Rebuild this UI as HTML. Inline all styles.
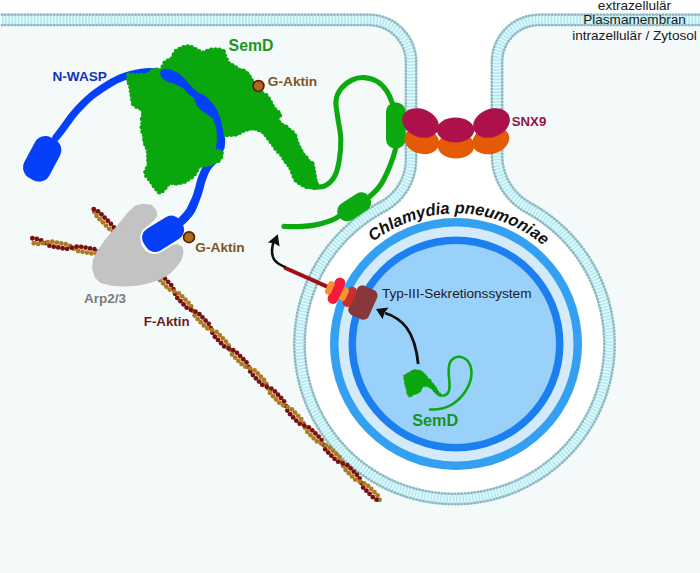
<!DOCTYPE html><html><head><meta charset="utf-8"><style>html,body{margin:0;padding:0;background:#f4f9fa;}svg{display:block}text{font-family:"Liberation Sans",sans-serif}</style></head><body>
<svg width="700" height="573" viewBox="0 0 700 573">
<rect width="700" height="573" fill="#f4f9fa"/>
<path d="M2 19.9L369 19.9A42 42 0 0 1 411 61.9L411 159.44A53.5 53.5 0 0 1 382.39 206.8A155 155 0 1 0 528.4 207.75A60 60 0 0 1 497 155.01L497 61.9A42 42 0 0 1 539 19.9L704 19.9 L704 -4 L-4 -4 Z" fill="#ffffff"/>
<circle cx="456" cy="344" r="126" fill="#33a0f2"/>
<circle cx="456" cy="344" r="117.5" fill="#d3eafb"/>
<circle cx="456" cy="344" r="107.5" fill="#1b7ff0"/>
<circle cx="456" cy="344" r="100" fill="#9ad1fa"/>
<path d="M2 19.9L369 19.9A42 42 0 0 1 411 61.9L411 159.44A53.5 53.5 0 0 1 382.39 206.8A155 155 0 1 0 528.4 207.75A60 60 0 0 1 497 155.01L497 61.9A42 42 0 0 1 539 19.9L704 19.9" fill="none" stroke="#e4f9fb" stroke-width="13"/>
<path d="M2 19.9L369 19.9A42 42 0 0 1 411 61.9L411 159.44A53.5 53.5 0 0 1 382.39 206.8A155 155 0 1 0 528.4 207.75A60 60 0 0 1 497 155.01L497 61.9A42 42 0 0 1 539 19.9L704 19.9" fill="none" stroke="#b0eaf2" stroke-width="8.5" stroke-dasharray="1.6 1.6"/>
<path d="M2 14.7L369 14.7A47.2 47.2 0 0 1 416.2 61.9L416.2 159.44A58.7 58.7 0 0 1 384.81 211.4A149.8 149.8 0 1 0 525.92 212.32A65.2 65.2 0 0 1 491.8 155.01L491.8 61.9A47.2 47.2 0 0 1 539 14.7L704 14.7" fill="none" stroke="#a3c5cd" stroke-width="1.1"/>
<path d="M2 14.7L369 14.7A47.2 47.2 0 0 1 416.2 61.9L416.2 159.44A58.7 58.7 0 0 1 384.81 211.4A149.8 149.8 0 1 0 525.92 212.32A65.2 65.2 0 0 1 491.8 155.01L491.8 61.9A47.2 47.2 0 0 1 539 14.7L704 14.7" fill="none" stroke="#92b8c1" stroke-width="2.8" stroke-linecap="round" stroke-dasharray="0.01 3.25"/>
<path d="M2 25.1L369 25.1A36.8 36.8 0 0 1 405.8 61.9L405.8 159.44A48.3 48.3 0 0 1 379.97 202.19A160.2 160.2 0 1 0 530.87 203.18A54.8 54.8 0 0 1 502.2 155.01L502.2 61.9A36.8 36.8 0 0 1 539 25.1L704 25.1" fill="none" stroke="#a3c5cd" stroke-width="1.1"/>
<path d="M2 25.1L369 25.1A36.8 36.8 0 0 1 405.8 61.9L405.8 159.44A48.3 48.3 0 0 1 379.97 202.19A160.2 160.2 0 1 0 530.87 203.18A54.8 54.8 0 0 1 502.2 155.01L502.2 61.9A36.8 36.8 0 0 1 539 25.1L704 25.1" fill="none" stroke="#92b8c1" stroke-width="2.8" stroke-linecap="round" stroke-dasharray="0.01 3.25"/>
<g>
<circle cx="155.48" cy="272.07" r="2.4" fill="#ae7a20"/><circle cx="323.37" cy="444.61" r="2.4" fill="#7a1010"/><circle cx="285.71" cy="405.91" r="2.4" fill="#7a1010"/><circle cx="192.89" cy="311.01" r="2.4" fill="#ae7a20"/><circle cx="117.84" cy="233.35" r="2.4" fill="#ae7a20"/><circle cx="361.35" cy="482.99" r="2.4" fill="#7a1010"/><circle cx="248.41" cy="366.85" r="2.4" fill="#7a1010"/><circle cx="230.27" cy="349.98" r="2.4" fill="#ae7a20"/><circle cx="379.52" cy="499.82" r="2.4" fill="#ae7a20"/><circle cx="210.74" cy="328.18" r="2.4" fill="#7a1010"/><circle cx="268.01" cy="388.59" r="2.4" fill="#ae7a20"/><circle cx="341.52" cy="461.46" r="2.4" fill="#ae7a20"/><circle cx="137.52" cy="255.02" r="2.4" fill="#7a1010"/><circle cx="173.38" cy="289.19" r="2.4" fill="#7a1010"/><circle cx="305.14" cy="427.82" r="2.4" fill="#ae7a20"/><circle cx="303.46" cy="423.17" r="2.4" fill="#ae7a20"/><circle cx="175.04" cy="293.84" r="2.4" fill="#7a1010"/><circle cx="135.82" cy="250.38" r="2.4" fill="#7a1010"/><circle cx="343.24" cy="466.09" r="2.4" fill="#ae7a20"/><circle cx="266.38" cy="383.93" r="2.4" fill="#ae7a20"/><circle cx="212.4" cy="332.83" r="2.4" fill="#7a1010"/><circle cx="228.58" cy="345.35" r="2.4" fill="#ae7a20"/><circle cx="250.19" cy="371.44" r="2.4" fill="#7a1010"/><circle cx="359.59" cy="478.38" r="2.4" fill="#7a1010"/><circle cx="119.56" cy="237.97" r="2.4" fill="#ae7a20"/><circle cx="191.2" cy="306.39" r="2.4" fill="#ae7a20"/><circle cx="287.36" cy="410.55" r="2.4" fill="#7a1010"/><circle cx="321.54" cy="440.04" r="2.4" fill="#7a1010"/><circle cx="157.2" cy="276.68" r="2.4" fill="#ae7a20"/><circle cx="153.74" cy="267.48" r="2.4" fill="#ae7a20"/><circle cx="325.2" cy="449.15" r="2.4" fill="#7a1010"/><circle cx="284.02" cy="401.31" r="2.4" fill="#7a1010"/><circle cx="194.62" cy="315.6" r="2.4" fill="#ae7a20"/><circle cx="363.19" cy="487.52" r="2.4" fill="#7a1010"/><circle cx="246.48" cy="362.38" r="2.4" fill="#7a1010"/><circle cx="232.1" cy="354.49" r="2.4" fill="#ae7a20"/><circle cx="377.6" cy="495.37" r="2.4" fill="#ae7a20"/><circle cx="208.75" cy="323.84" r="2.4" fill="#7a1010"/><circle cx="269.98" cy="392.93" r="2.4" fill="#ae7a20"/><circle cx="339.43" cy="457.19" r="2.4" fill="#ae7a20"/><circle cx="139.6" cy="259.28" r="2.4" fill="#7a1010"/><circle cx="171.19" cy="285.04" r="2.4" fill="#7a1010"/><circle cx="307.39" cy="431.94" r="2.4" fill="#ae7a20"/><circle cx="301.23" cy="419.07" r="2.4" fill="#ae7a20"/><circle cx="177.29" cy="297.93" r="2.4" fill="#7a1010"/><circle cx="133.42" cy="246.43" r="2.4" fill="#7a1010"/><circle cx="345.68" cy="470.01" r="2.4" fill="#ae7a20"/><circle cx="263.98" cy="379.99" r="2.4" fill="#ae7a20"/><circle cx="214.84" cy="336.74" r="2.4" fill="#7a1010"/><circle cx="225.97" cy="341.61" r="2.4" fill="#ae7a20"/><circle cx="252.85" cy="375.12" r="2.4" fill="#7a1010"/><circle cx="356.88" cy="474.73" r="2.4" fill="#7a1010"/><circle cx="122.25" cy="241.63" r="2.4" fill="#ae7a20"/><circle cx="188.42" cy="302.82" r="2.4" fill="#ae7a20"/><circle cx="290.13" cy="414.13" r="2.4" fill="#7a1010"/><circle cx="318.62" cy="436.59" r="2.4" fill="#7a1010"/><circle cx="160.05" cy="280.18" r="2.4" fill="#ae7a20"/><circle cx="150.76" cy="264.09" r="2.4" fill="#ae7a20"/><circle cx="328.22" cy="452.48" r="2.4" fill="#7a1010"/><circle cx="281.06" cy="397.92" r="2.4" fill="#7a1010"/><circle cx="197.62" cy="318.95" r="2.4" fill="#ae7a20"/><circle cx="366.38" cy="490.7" r="2.4" fill="#7a1010"/><circle cx="243.29" cy="359.24" r="2.4" fill="#7a1010"/><circle cx="235.27" cy="357.7" r="2.4" fill="#ae7a20"/><circle cx="374.41" cy="492.2" r="2.4" fill="#ae7a20"/><circle cx="205.62" cy="320.61" r="2.4" fill="#7a1010"/><circle cx="273.08" cy="396.19" r="2.4" fill="#ae7a20"/><circle cx="336.25" cy="454" r="2.4" fill="#ae7a20"/><circle cx="142.75" cy="262.49" r="2.4" fill="#7a1010"/><circle cx="168.06" cy="281.81" r="2.4" fill="#7a1010"/><circle cx="310.58" cy="435.13" r="2.4" fill="#ae7a20"/><circle cx="298.12" cy="415.83" r="2.4" fill="#ae7a20"/><circle cx="180.42" cy="301.16" r="2.4" fill="#7a1010"/><circle cx="130.26" cy="243.22" r="2.4" fill="#7a1010"/><circle cx="348.86" cy="473.2" r="2.4" fill="#ae7a20"/><circle cx="260.85" cy="376.74" r="2.4" fill="#ae7a20"/><circle cx="217.97" cy="339.97" r="2.4" fill="#7a1010"/><circle cx="222.84" cy="338.38" r="2.4" fill="#ae7a20"/><circle cx="255.98" cy="378.33" r="2.4" fill="#7a1010"/><circle cx="353.71" cy="471.55" r="2.4" fill="#7a1010"/><circle cx="125.41" cy="244.84" r="2.4" fill="#ae7a20"/><circle cx="185.29" cy="299.58" r="2.4" fill="#ae7a20"/><circle cx="293.24" cy="417.39" r="2.4" fill="#7a1010"/><circle cx="315.41" cy="433.45" r="2.4" fill="#7a1010"/><circle cx="163.19" cy="283.4" r="2.4" fill="#ae7a20"/><circle cx="147.61" cy="260.87" r="2.4" fill="#ae7a20"/><circle cx="331.4" cy="455.66" r="2.4" fill="#7a1010"/><circle cx="277.96" cy="394.65" r="2.4" fill="#7a1010"/><circle cx="200.75" cy="322.19" r="2.4" fill="#ae7a20"/><circle cx="369.57" cy="493.87" r="2.4" fill="#7a1010"/><circle cx="240.12" cy="356.07" r="2.4" fill="#7a1010"/><circle cx="238.45" cy="360.91" r="2.4" fill="#ae7a20"/><circle cx="371.22" cy="489.02" r="2.4" fill="#ae7a20"/><circle cx="202.5" cy="317.37" r="2.4" fill="#7a1010"/><circle cx="276.17" cy="399.45" r="2.4" fill="#ae7a20"/><circle cx="333.07" cy="450.81" r="2.4" fill="#ae7a20"/><circle cx="145.9" cy="265.7" r="2.4" fill="#7a1010"/><circle cx="164.92" cy="278.58" r="2.4" fill="#7a1010"/><circle cx="313.79" cy="438.3" r="2.4" fill="#ae7a20"/><circle cx="295.01" cy="412.58" r="2.4" fill="#ae7a20"/><circle cx="183.55" cy="304.4" r="2.4" fill="#7a1010"/><circle cx="127.11" cy="240.01" r="2.4" fill="#7a1010"/><circle cx="352.04" cy="476.39" r="2.4" fill="#ae7a20"/><circle cx="257.7" cy="373.5" r="2.4" fill="#ae7a20"/><circle cx="221.1" cy="343.2" r="2.4" fill="#7a1010"/><circle cx="219.71" cy="335.15" r="2.4" fill="#ae7a20"/><circle cx="259.1" cy="381.55" r="2.4" fill="#7a1010"/><circle cx="350.53" cy="468.36" r="2.4" fill="#7a1010"/><circle cx="128.56" cy="248.05" r="2.4" fill="#ae7a20"/><circle cx="182.16" cy="296.35" r="2.4" fill="#ae7a20"/><circle cx="296.36" cy="420.64" r="2.4" fill="#7a1010"/><circle cx="312.23" cy="430.28" r="2.4" fill="#7a1010"/><circle cx="166.33" cy="286.63" r="2.4" fill="#ae7a20"/><circle cx="144.46" cy="257.66" r="2.4" fill="#ae7a20"/><circle cx="334.58" cy="458.84" r="2.4" fill="#7a1010"/><circle cx="274.86" cy="391.39" r="2.4" fill="#7a1010"/><circle cx="203.88" cy="325.42" r="2.4" fill="#ae7a20"/><circle cx="372.76" cy="497.04" r="2.4" fill="#7a1010"/><circle cx="236.96" cy="352.87" r="2.4" fill="#7a1010"/><circle cx="241.65" cy="364.09" r="2.4" fill="#ae7a20"/><circle cx="368.03" cy="485.85" r="2.4" fill="#ae7a20"/><circle cx="199.37" cy="314.14" r="2.4" fill="#7a1010"/><circle cx="279.27" cy="402.71" r="2.4" fill="#ae7a20"/><circle cx="329.88" cy="447.63" r="2.4" fill="#ae7a20"/><circle cx="149.05" cy="268.92" r="2.4" fill="#7a1010"/><circle cx="161.78" cy="275.36" r="2.4" fill="#7a1010"/><circle cx="317.01" cy="441.46" r="2.4" fill="#ae7a20"/><circle cx="291.91" cy="409.33" r="2.4" fill="#ae7a20"/><circle cx="186.67" cy="307.63" r="2.4" fill="#7a1010"/><circle cx="123.95" cy="236.8" r="2.4" fill="#7a1010"/><circle cx="355.22" cy="479.57" r="2.4" fill="#ae7a20"/><circle cx="254.53" cy="370.29" r="2.4" fill="#ae7a20"/><circle cx="224.24" cy="346.43" r="2.4" fill="#7a1010"/><circle cx="216.54" cy="331.96" r="2.4" fill="#ae7a20"/><circle cx="262.27" cy="384.74" r="2.4" fill="#7a1010"/><circle cx="347.28" cy="465.25" r="2.4" fill="#7a1010"/><circle cx="131.81" cy="251.16" r="2.4" fill="#ae7a20"/><circle cx="178.82" cy="293.31" r="2.4" fill="#ae7a20"/><circle cx="299.71" cy="423.67" r="2.4" fill="#7a1010"/><circle cx="308.82" cy="427.34" r="2.4" fill="#7a1010"/><circle cx="169.72" cy="289.6" r="2.4" fill="#ae7a20"/><circle cx="140.93" cy="254.82" r="2.4" fill="#ae7a20"/><circle cx="338.14" cy="461.64" r="2.4" fill="#7a1010"/><circle cx="271.33" cy="388.53" r="2.4" fill="#7a1010"/><circle cx="207.45" cy="328.23" r="2.4" fill="#ae7a20"/><circle cx="376.51" cy="499.65" r="2.4" fill="#7a1010"/><circle cx="233.21" cy="350.25" r="2.4" fill="#7a1010"/><circle cx="245.49" cy="366.63" r="2.4" fill="#ae7a20"/><circle cx="364.2" cy="483.31" r="2.4" fill="#ae7a20"/><circle cx="115.02" cy="232.96" r="2.4" fill="#7a1010"/><circle cx="195.45" cy="311.67" r="2.4" fill="#7a1010"/><circle cx="283.19" cy="405.2" r="2.4" fill="#ae7a20"/><circle cx="325.85" cy="445.29" r="2.4" fill="#ae7a20"/><circle cx="153.05" cy="271.3" r="2.4" fill="#7a1010"/><circle cx="157.65" cy="273.09" r="2.4" fill="#7a1010"/><circle cx="321.2" cy="443.6" r="2.4" fill="#ae7a20"/><circle cx="287.77" cy="407.06" r="2.4" fill="#ae7a20"/><circle cx="190.85" cy="309.85" r="2.4" fill="#7a1010"/><circle cx="119.63" cy="234.74" r="2.4" fill="#7a1010"/><circle cx="359.58" cy="481.58" r="2.4" fill="#ae7a20"/><circle cx="250.13" cy="368.31" r="2.4" fill="#ae7a20"/><circle cx="228.62" cy="348.45" r="2.4" fill="#7a1010"/><circle cx="212.02" cy="330.07" r="2.4" fill="#ae7a20"/><circle cx="266.77" cy="386.66" r="2.4" fill="#7a1010"/><circle cx="342.73" cy="463.42" r="2.4" fill="#7a1010"/><circle cx="136.35" cy="253.01" r="2.4" fill="#ae7a20"/><circle cx="174.28" cy="291.45" r="2.4" fill="#ae7a20"/><circle cx="304.26" cy="425.53" r="2.4" fill="#7a1010"/>
<circle cx="115.92" cy="231.63" r="2.4" fill="#7a1010"/><circle cx="94.25" cy="211.92" r="2.4" fill="#ae7a20"/><circle cx="113.86" cy="227.35" r="2.4" fill="#7a1010"/><circle cx="96.58" cy="215.93" r="2.4" fill="#ae7a20"/><circle cx="110.88" cy="223.97" r="2.4" fill="#7a1010"/><circle cx="99.73" cy="219.15" r="2.4" fill="#ae7a20"/><circle cx="107.74" cy="220.75" r="2.4" fill="#7a1010"/><circle cx="102.88" cy="222.36" r="2.4" fill="#ae7a20"/><circle cx="104.59" cy="217.54" r="2.4" fill="#7a1010"/><circle cx="106.02" cy="225.58" r="2.4" fill="#ae7a20"/><circle cx="101.44" cy="214.32" r="2.4" fill="#7a1010"/><circle cx="109.17" cy="228.79" r="2.4" fill="#ae7a20"/><circle cx="98.01" cy="211.38" r="2.4" fill="#7a1010"/><circle cx="113.02" cy="231.33" r="2.4" fill="#ae7a20"/><circle cx="93.76" cy="209.25" r="2.4" fill="#7a1010"/>
<circle cx="45.26" cy="243.06" r="2.4" fill="#7a1010"/><circle cx="98.59" cy="251.59" r="2.4" fill="#7a1010"/><circle cx="73.97" cy="248.68" r="2.4" fill="#ae7a20"/><circle cx="69.87" cy="245.98" r="2.4" fill="#ae7a20"/><circle cx="41.16" cy="240.39" r="2.4" fill="#7a1010"/><circle cx="49.36" cy="245.68" r="2.4" fill="#7a1010"/><circle cx="94.44" cy="249.18" r="2.4" fill="#7a1010"/><circle cx="78.13" cy="250.98" r="2.4" fill="#ae7a20"/><circle cx="65.64" cy="244.1" r="2.4" fill="#ae7a20"/><circle cx="36.83" cy="239.02" r="2.4" fill="#7a1010"/><circle cx="53.76" cy="246.68" r="2.4" fill="#7a1010"/><circle cx="90.01" cy="248.4" r="2.4" fill="#7a1010"/><circle cx="82.56" cy="251.76" r="2.4" fill="#ae7a20"/><circle cx="61.2" cy="243.32" r="2.4" fill="#ae7a20"/><circle cx="32.4" cy="238.23" r="2.4" fill="#7a1010"/><circle cx="58.19" cy="247.46" r="2.4" fill="#7a1010"/><circle cx="85.58" cy="247.62" r="2.4" fill="#7a1010"/><circle cx="86.99" cy="252.54" r="2.4" fill="#ae7a20"/><circle cx="56.77" cy="242.54" r="2.4" fill="#ae7a20"/><circle cx="33.82" cy="243.16" r="2.4" fill="#ae7a20"/><circle cx="62.62" cy="248.24" r="2.4" fill="#7a1010"/><circle cx="81.15" cy="246.84" r="2.4" fill="#7a1010"/><circle cx="91.43" cy="253.32" r="2.4" fill="#ae7a20"/><circle cx="52.34" cy="241.75" r="2.4" fill="#ae7a20"/><circle cx="38.25" cy="243.94" r="2.4" fill="#ae7a20"/><circle cx="67.09" cy="248.8" r="2.4" fill="#7a1010"/><circle cx="76.61" cy="246.65" r="2.4" fill="#7a1010"/><circle cx="95.98" cy="253.41" r="2.4" fill="#ae7a20"/><circle cx="47.72" cy="242.07" r="2.4" fill="#ae7a20"/><circle cx="42.95" cy="243.21" r="2.4" fill="#ae7a20"/><circle cx="71.85" cy="247.75" r="2.4" fill="#7a1010"/>
</g>
<path d="M314 187.4 C315.83 187.13 321.58 187.63 325 185.8 C328.42 183.97 332.13 180.6 334.5 176.4 C336.87 172.2 338.15 166.9 339.2 160.6 C340.25 154.3 341.07 145.93 340.8 138.6 C340.53 131.27 338.4 122.88 337.6 116.6 C336.8 110.32 335.5 105.45 336 100.9 C336.5 96.35 337.97 92.77 340.6 89.3 C343.23 85.83 347.85 82.05 351.8 80.1 C355.75 78.15 360.1 77.38 364.3 77.6 C368.5 77.82 373.32 79.25 377 81.4 C380.68 83.55 383.8 86.73 386.4 90.5 C389 94.27 391.17 99.92 392.6 104 C394.03 108.08 394.6 113.17 395 115" fill="none" stroke="#0ca911" stroke-width="5.1" stroke-linecap="round"/>
<path d="M396 140 C395.97 141.33 396.88 143.52 395.8 148 C394.72 152.48 392.13 160.6 389.5 166.9 C386.87 173.2 383.67 180.55 380 185.8 C376.33 191.05 371.83 194.87 367.5 198.4 C363.17 201.93 358.42 204.23 354 207 C349.58 209.77 344.77 212.77 341 215 C337.23 217.23 335.85 218.72 331.4 220.4 C326.95 222.08 320.02 224.07 314.3 225.1 C308.58 226.13 302.15 226.38 297.1 226.6 C292.05 226.82 286.18 226.43 284 226.4" fill="none" stroke="#0ca911" stroke-width="5.2" stroke-linecap="round"/>
<rect x="386" y="102.5" width="19.5" height="46" rx="9" fill="#0ca911"/>
<rect x="-18" y="-9.75" width="36" height="19.5" rx="9" fill="#0ca911" transform="translate(354.2 206.8) rotate(-33)"/>
<ellipse cx="421.8" cy="140.8" rx="17.5" ry="13" fill="#e45a06" transform="rotate(15 421.8 140.8)"/>
<ellipse cx="490.8" cy="140.4" rx="18.8" ry="13.5" fill="#e45a06" transform="rotate(-15 490.8 140.4)"/>
<ellipse cx="456" cy="145.7" rx="18.3" ry="12.9" fill="#e45a06"/>
<ellipse cx="420.5" cy="123" rx="19" ry="14" fill="#ac1249" transform="rotate(22 420.5 123)"/>
<ellipse cx="491.5" cy="123" rx="19" ry="14" fill="#ac1249" transform="rotate(-22 491.5 123)"/>
<ellipse cx="455.5" cy="130" rx="18.75" ry="12.4" fill="#ac1249"/>
<path d="M56 137.5 C56.98 136.25 59.9 132.67 61.9 130 C63.9 127.33 65.95 124.28 68 121.5 C70.05 118.72 71.87 116.08 74.2 113.3 C76.53 110.52 79.12 107.68 82 104.8 C84.88 101.92 88.5 98.5 91.5 96 C94.5 93.5 96.37 92.22 100 89.8 C103.63 87.38 109.97 83.42 113.3 81.5 C116.63 79.58 117.22 79.42 120 78.3 C122.78 77.18 126.67 75.75 130 74.8 C133.33 73.85 136.67 73.12 140 72.6 C143.33 72.08 146.33 71.63 150 71.7 C153.67 71.77 160 72.78 162 73" fill="none" stroke="#0540f8" stroke-width="7.4" stroke-linecap="round"/>
<path d="M221 136 C220.92 137.67 221.33 142.5 220.5 146 C219.67 149.5 218.25 153.42 216 157 C213.75 160.58 209.37 163.78 207 167.5 C204.63 171.22 203.03 176.03 201.8 179.3 C200.57 182.57 200.35 184.48 199.6 187.1 C198.85 189.72 198.2 192.38 197.3 195 C196.4 197.62 195.33 200.18 194.2 202.8 C193.07 205.42 191.95 208.33 190.5 210.7 C189.05 213.07 187.25 215.03 185.5 217 C183.75 218.97 180.92 221.58 180 222.5" fill="none" stroke="#0540f8" stroke-width="8.4" stroke-linecap="round"/>
<path d="M128.41 74.7 L129.47 82.67 L131.15 89.58 L131.19 89.77 L132.17 97.37 L133.93 104.48 L137.07 107.62 L142.46 109.39 L142.63 109.45 L142.79 109.53 L142.94 109.63 L143.08 109.74 L143.2 109.86 L143.32 109.99 L143.42 110.14 L143.51 110.29 L143.58 110.46 L143.64 110.63 L143.67 110.8 L143.7 110.98 L143.7 111.15 L143.69 111.33 L142.69 119.02 L141.83 126.38 L143.65 133.66 L143.65 133.67 L145.55 141.37 L145.57 141.49 L146.56 147.23 L148.45 154.87 L148.49 155.09 L149.39 162.69 L149.4 162.86 L149.4 163.03 L149.37 163.21 L149.34 163.37 L149.28 163.54 L149.21 163.7 L145.6 171.02 L145.6 175.65 L150.77 180.83 L150.89 180.96 L150.99 181.1 L154.89 186.9 L154.9 186.9 L158.29 191.99 L161.29 192.61 L164.48 188.7 L167.25 184.93 L167.36 184.8 L167.49 184.67 L167.62 184.56 L167.77 184.46 L167.92 184.38 L168.08 184.31 L168.25 184.26 L172.15 183.26 L172.37 183.21 L179.97 182.23 L187.08 180.47 L190.53 177.03 L194.33 173.23 L197.91 169.64 L198.98 166.17 L199.04 166.01 L199.11 165.85 L199.2 165.7 L199.3 165.56 L199.42 165.43 L199.55 165.32 L199.69 165.21 L199.83 165.12 L199.99 165.05 L200.15 164.99 L200.32 164.94 L200.49 164.91 L208.03 164.03 L216.95 161.34 L221.09 156.25 L221.73 151.98 L219.14 150.58 L218.99 150.49 L218.85 150.39 L218.72 150.27 L218.61 150.14 L218.5 150 L218.41 149.85 L218.34 149.69 L218.28 149.52 L218.23 149.35 L218.21 149.18 L218.2 149 L218.2 142 L218.21 141.83 L218.23 141.66 L218.27 141.49 L218.33 141.32 L218.41 141.17 L218.49 141.02 L218.59 140.88 L222.59 135.88 L222.71 135.74 L222.84 135.62 L222.99 135.51 L223.14 135.42 L223.3 135.34 L223.47 135.28 L223.64 135.24 L223.82 135.21 L224 135.2 L229.78 135.2 L234.47 134.05 L239.17 132.9 L243.88 130.5 L243.91 130.48 L248.81 128.08 L248.96 128.02 L249.11 127.97 L249.27 127.93 L249.44 127.91 L249.6 127.9 L254.4 127.9 L254.56 127.91 L254.72 127.93 L254.88 127.97 L255.04 128.02 L255.19 128.08 L262.59 131.68 L262.76 131.78 L262.92 131.89 L263.07 132.03 L267.97 136.93 L268.09 137.06 L268.2 137.21 L273.1 144.6 L277.9 151.75 L285.07 158.93 L285.19 159.06 L285.3 159.21 L290.2 166.61 L290.28 166.74 L290.35 166.89 L290.41 167.04 L292.73 174.11 L297.3 181 L304.04 185.43 L313.03 187.72 L317.11 186.34 L316.75 186 L316.64 185.88 L316.53 185.74 L316.44 185.6 L316.36 185.45 L316.3 185.29 L316.25 185.13 L315.05 180.23 L315.01 180.02 L313.84 170.41 L311.53 163.68 L306.93 159.07 L302.03 154.17 L301.9 154.03 L301.78 153.86 L301.68 153.69 L296.88 143.89 L296.81 143.72 L296.76 143.54 L294.38 134.23 L290 129.95 L281.7 125.16 L281.55 125.06 L281.41 124.95 L281.28 124.82 L281.16 124.68 L277.46 119.78 L277.37 119.64 L277.28 119.49 L277.22 119.33 L277.16 119.17 L277.13 119 L277.1 118.83 L277.1 118.66 L277.11 118.49 L277.14 118.32 L277.18 118.15 L277.24 117.99 L277.32 117.84 L277.41 117.69 L277.51 117.55 L277.63 117.43 L280.28 114.78 L278.82 112.62 L276.75 111.33 L276.58 111.21 L276.43 111.07 L272.93 107.57 L272.79 107.42 L272.68 107.26 L272.58 107.09 L269.24 100.2 L266.01 95.4 L261.01 92.1 L260.85 91.99 L260.71 91.86 L256.71 87.76 L256.63 87.67 L251.93 82.17 L251.83 82.04 L251.74 81.9 L248.31 75.91 L245.23 72.04 L240.54 70.51 L240.31 70.42 L235.01 67.82 L234.79 67.69 L229.59 64.19 L229.45 64.08 L229.31 63.96 L229.19 63.82 L229.08 63.67 L228.99 63.5 L226.39 58.3 L223.13 51.79 L218.09 48.9 L210.1 50.46 L203.15 52.24 L202.98 52.28 L202.8 52.3 L202.63 52.3 L202.45 52.28 L202.28 52.25 L202.11 52.2 L196.91 50.4 L196.73 50.33 L196.56 50.23 L190.1 46.27 L186.41 46.76 L180.7 48.66 L176.19 50.96 L172.95 56.51 L172.9 56.6 L171.5 58.7 L171.39 58.85 L171.26 58.99 L171.12 59.11 L170.97 59.22 L170.8 59.31 L167.55 60.94 L164.5 63.2 L162.6 66.83 L161.3 69.33 L161.21 69.48 L161.1 69.63 L160.98 69.76 L160.85 69.88 L160.71 69.99 L160.56 70.08 L160.4 70.16 L160.23 70.22 L160.05 70.26 L159.88 70.29 L159.7 70.3 L156.43 70.3 L153.3 70.75 L150.42 72.02 L148.05 74.3 L147.92 74.41 L147.78 74.51 L147.63 74.6 L147.47 74.67 L144.97 75.67 L144.81 75.73 L144.65 75.77 L144.48 75.79 L144.32 75.8 L144.15 75.79 L138.15 75.29 L138.04 75.28 L131.39 74.32Z" fill="#09a60d"/><circle cx="128.41" cy="74.7" r="2.13" fill="#09a60d"/><circle cx="128.97" cy="78.88" r="2.85" fill="#09a60d"/><circle cx="129.57" cy="83.05" r="2.76" fill="#09a60d"/><circle cx="130.56" cy="87.15" r="2.26" fill="#09a60d"/><circle cx="131.38" cy="91.29" r="2.5" fill="#09a60d"/><circle cx="131.93" cy="95.47" r="2.45" fill="#09a60d"/><circle cx="132.72" cy="99.61" r="2.65" fill="#09a60d"/><circle cx="133.74" cy="103.7" r="2.79" fill="#09a60d"/><circle cx="136.34" cy="106.9" r="2.09" fill="#09a60d"/><circle cx="140.11" cy="108.62" r="2.03" fill="#09a60d"/><circle cx="143.63" cy="110.59" r="2.84" fill="#09a60d"/><circle cx="143.24" cy="114.77" r="2.43" fill="#09a60d"/><circle cx="142.69" cy="118.96" r="2.76" fill="#09a60d"/><circle cx="142.2" cy="123.15" r="2" fill="#09a60d"/><circle cx="142.06" cy="127.32" r="2.45" fill="#09a60d"/><circle cx="143.08" cy="131.41" r="2.72" fill="#09a60d"/><circle cx="144.1" cy="135.5" r="2.23" fill="#09a60d"/><circle cx="145.11" cy="139.6" r="2.95" fill="#09a60d"/><circle cx="145.96" cy="143.73" r="2.9" fill="#09a60d"/><circle cx="146.72" cy="147.88" r="2.03" fill="#09a60d"/><circle cx="147.73" cy="151.98" r="2.03" fill="#09a60d"/><circle cx="148.61" cy="156.1" r="2.54" fill="#09a60d"/><circle cx="149.1" cy="160.29" r="2.94" fill="#09a60d"/><circle cx="148.88" cy="164.38" r="2.38" fill="#09a60d"/><circle cx="147.01" cy="168.17" r="2.22" fill="#09a60d"/><circle cx="145.6" cy="172.06" r="2.42" fill="#09a60d"/><circle cx="146.04" cy="176.09" r="2.03" fill="#09a60d"/><circle cx="149.02" cy="179.08" r="2.22" fill="#09a60d"/><circle cx="151.77" cy="182.25" r="2.44" fill="#09a60d"/><circle cx="154.13" cy="185.76" r="2.5" fill="#09a60d"/><circle cx="156.47" cy="189.26" r="2.23" fill="#09a60d"/><circle cx="159.21" cy="192.18" r="2.23" fill="#09a60d"/><circle cx="162.61" cy="190.99" r="2.22" fill="#09a60d"/><circle cx="165.23" cy="187.68" r="2.46" fill="#09a60d"/><circle cx="167.86" cy="184.41" r="2.29" fill="#09a60d"/><circle cx="171.93" cy="183.31" r="2.02" fill="#09a60d"/><circle cx="176.11" cy="182.73" r="2.84" fill="#09a60d"/><circle cx="180.28" cy="182.15" r="2.56" fill="#09a60d"/><circle cx="184.38" cy="181.14" r="2.64" fill="#09a60d"/><circle cx="188.1" cy="179.46" r="2.19" fill="#09a60d"/><circle cx="191.08" cy="176.47" r="2.99" fill="#09a60d"/><circle cx="194.06" cy="173.49" r="2.86" fill="#09a60d"/><circle cx="197.05" cy="170.51" r="2.12" fill="#09a60d"/><circle cx="198.79" cy="166.78" r="2.33" fill="#09a60d"/><circle cx="201.99" cy="164.74" r="2.72" fill="#09a60d"/><circle cx="206.18" cy="164.25" r="2.71" fill="#09a60d"/><circle cx="210.28" cy="163.35" r="2.94" fill="#09a60d"/><circle cx="214.32" cy="162.13" r="2.42" fill="#09a60d"/><circle cx="217.88" cy="160.19" r="2.83" fill="#09a60d"/><circle cx="220.54" cy="156.92" r="2.67" fill="#09a60d"/><circle cx="221.59" cy="152.94" r="2.3" fill="#09a60d"/><circle cx="218.88" cy="150.41" r="2.59" fill="#09a60d"/><circle cx="218.2" cy="146.4" r="2.88" fill="#09a60d"/><circle cx="218.2" cy="142.18" r="2.85" fill="#09a60d"/><circle cx="220.36" cy="138.67" r="2.51" fill="#09a60d"/><circle cx="223.07" cy="135.46" r="2.59" fill="#09a60d"/><circle cx="227.25" cy="135.2" r="2.03" fill="#09a60d"/><circle cx="231.42" cy="134.8" r="2.24" fill="#09a60d"/><circle cx="235.51" cy="133.8" r="2.8" fill="#09a60d"/><circle cx="239.58" cy="132.69" r="2.41" fill="#09a60d"/><circle cx="243.33" cy="130.78" r="2.17" fill="#09a60d"/><circle cx="247.12" cy="128.91" r="2.55" fill="#09a60d"/><circle cx="251.12" cy="127.9" r="2.7" fill="#09a60d"/><circle cx="255.3" cy="128.14" r="2.67" fill="#09a60d"/><circle cx="259.09" cy="129.98" r="2.37" fill="#09a60d"/><circle cx="262.87" cy="131.86" r="2.44" fill="#09a60d"/><circle cx="265.87" cy="134.82" r="2.51" fill="#09a60d"/><circle cx="268.69" cy="137.94" r="2.78" fill="#09a60d"/><circle cx="271.02" cy="141.46" r="2.52" fill="#09a60d"/><circle cx="273.35" cy="144.98" r="2.39" fill="#09a60d"/><circle cx="275.7" cy="148.48" r="2.49" fill="#09a60d"/><circle cx="278.09" cy="151.95" r="2.03" fill="#09a60d"/><circle cx="281.08" cy="154.93" r="2.04" fill="#09a60d"/><circle cx="284.06" cy="157.91" r="2.7" fill="#09a60d"/><circle cx="286.64" cy="161.23" r="2.98" fill="#09a60d"/><circle cx="288.97" cy="164.75" r="2.59" fill="#09a60d"/><circle cx="290.88" cy="168.47" r="2.39" fill="#09a60d"/><circle cx="292.2" cy="172.48" r="2.17" fill="#09a60d"/><circle cx="294.12" cy="176.2" r="2.5" fill="#09a60d"/><circle cx="296.45" cy="179.71" r="2.98" fill="#09a60d"/><circle cx="299.54" cy="182.47" r="2.77" fill="#09a60d"/><circle cx="303.06" cy="184.79" r="2.54" fill="#09a60d"/><circle cx="306.99" cy="186.18" r="2.86" fill="#09a60d"/><circle cx="311.08" cy="187.23" r="2.23" fill="#09a60d"/><circle cx="315.12" cy="187.02" r="2.51" fill="#09a60d"/><circle cx="316.11" cy="184.54" r="2.95" fill="#09a60d"/><circle cx="315.11" cy="180.45" r="2.58" fill="#09a60d"/><circle cx="314.55" cy="176.27" r="2.46" fill="#09a60d"/><circle cx="314.04" cy="172.08" r="2.27" fill="#09a60d"/><circle cx="313.01" cy="168.01" r="2.55" fill="#09a60d"/><circle cx="311.65" cy="164.02" r="2.96" fill="#09a60d"/><circle cx="308.8" cy="160.95" r="2.01" fill="#09a60d"/><circle cx="305.82" cy="157.96" r="2.78" fill="#09a60d"/><circle cx="302.83" cy="154.98" r="2.82" fill="#09a60d"/><circle cx="300.59" cy="151.46" r="2.89" fill="#09a60d"/><circle cx="298.73" cy="147.67" r="2.74" fill="#09a60d"/><circle cx="296.88" cy="143.88" r="2.81" fill="#09a60d"/><circle cx="295.8" cy="139.81" r="2.52" fill="#09a60d"/><circle cx="294.76" cy="135.72" r="2.56" fill="#09a60d"/><circle cx="292.46" cy="132.35" r="2.43" fill="#09a60d"/><circle cx="289.33" cy="129.56" r="2.06" fill="#09a60d"/><circle cx="285.67" cy="127.45" r="2.87" fill="#09a60d"/><circle cx="282.02" cy="125.34" r="2.57" fill="#09a60d"/><circle cx="279.28" cy="122.18" r="2.2" fill="#09a60d"/><circle cx="277.1" cy="118.65" r="2.5" fill="#09a60d"/><circle cx="279.65" cy="115.41" r="2.48" fill="#09a60d"/><circle cx="278.21" cy="112.24" r="2.36" fill="#09a60d"/><circle cx="274.95" cy="109.59" r="2.35" fill="#09a60d"/><circle cx="272.25" cy="106.4" r="2.54" fill="#09a60d"/><circle cx="270.41" cy="102.61" r="2.62" fill="#09a60d"/><circle cx="268.37" cy="98.92" r="2.61" fill="#09a60d"/><circle cx="266.02" cy="95.42" r="2.46" fill="#09a60d"/><circle cx="262.5" cy="93.09" r="2.03" fill="#09a60d"/><circle cx="259.29" cy="90.4" r="2.23" fill="#09a60d"/><circle cx="256.36" cy="87.35" r="2.18" fill="#09a60d"/><circle cx="253.62" cy="84.15" r="2.58" fill="#09a60d"/><circle cx="251.1" cy="80.78" r="2.86" fill="#09a60d"/><circle cx="249" cy="77.12" r="2.8" fill="#09a60d"/><circle cx="246.55" cy="73.7" r="2.8" fill="#09a60d"/><circle cx="243.23" cy="71.39" r="2.82" fill="#09a60d"/><circle cx="239.29" cy="69.92" r="2.26" fill="#09a60d"/><circle cx="235.5" cy="68.06" r="2.84" fill="#09a60d"/><circle cx="231.95" cy="65.78" r="2.67" fill="#09a60d"/><circle cx="228.79" cy="63.1" r="2.08" fill="#09a60d"/><circle cx="226.9" cy="59.33" r="2.02" fill="#09a60d"/><circle cx="225.02" cy="55.56" r="2.01" fill="#09a60d"/><circle cx="223.12" cy="51.79" r="2.76" fill="#09a60d"/><circle cx="219.46" cy="49.69" r="2.25" fill="#09a60d"/><circle cx="215.5" cy="49.4" r="2.11" fill="#09a60d"/><circle cx="211.36" cy="50.21" r="2.62" fill="#09a60d"/><circle cx="207.26" cy="51.19" r="2.34" fill="#09a60d"/><circle cx="203.17" cy="52.24" r="2.07" fill="#09a60d"/><circle cx="199.14" cy="51.17" r="2.16" fill="#09a60d"/><circle cx="195.31" cy="49.47" r="2.53" fill="#09a60d"/><circle cx="191.71" cy="47.26" r="2.17" fill="#09a60d"/><circle cx="187.8" cy="46.58" r="2.27" fill="#09a60d"/><circle cx="183.73" cy="47.65" r="2.71" fill="#09a60d"/><circle cx="179.79" cy="49.13" r="2.45" fill="#09a60d"/><circle cx="176.1" cy="51.12" r="2.32" fill="#09a60d"/><circle cx="173.97" cy="54.76" r="2.47" fill="#09a60d"/><circle cx="171.74" cy="58.34" r="2.02" fill="#09a60d"/><circle cx="168.25" cy="60.59" r="2.39" fill="#09a60d"/><circle cx="164.79" cy="62.98" r="2.42" fill="#09a60d"/><circle cx="162.71" cy="66.61" r="2.19" fill="#09a60d"/><circle cx="160.48" cy="70.12" r="2.11" fill="#09a60d"/><circle cx="156.29" cy="70.32" r="2.9" fill="#09a60d"/><circle cx="152.2" cy="71.23" r="2.51" fill="#09a60d"/><circle cx="148.78" cy="73.59" r="2.21" fill="#09a60d"/><circle cx="145.14" cy="75.6" r="2.61" fill="#09a60d"/><circle cx="140.96" cy="75.53" r="2.82" fill="#09a60d"/><circle cx="136.77" cy="75.1" r="2.02" fill="#09a60d"/><circle cx="132.59" cy="74.49" r="2.02" fill="#09a60d"/>
<path d="M161.2 70.5 L165.4 69.1 L171 70 L176.5 72.6 L180 74.5 L184.5 79 L188.7 83.6 L193 88.5 L197.5 92.4 L204.4 95.8 L208.5 99 L211.4 102.8 L214.3 106 L216.6 109.8 L220.1 118.5 L222.8 130.8 L223.8 140 L224 149 L216 149 L217.5 140 L216.6 127.3 L213.2 118.5 L206.2 113.3 L201 110 L197.5 106.3 L194 97.6 L188.7 94.1 L184 88.5 L180 86.2 L173.7 83 L168.2 81.6 L164 79.5 L161.2 76.1 L160.5 72.6Z" fill="#0540f8" stroke="#0540f8" stroke-width="0.8" stroke-linejoin="round"/>
<path d="M142.6 204.6 L151.4 205.5 L155.7 210.7 L156.6 215.1 L154 219.4 L147.9 224.7 L142.6 229.9 L140 236.9 L140.9 245.6 L145.2 251.7 L151.4 254.4 L158.3 253.5 L165.3 250 L172.3 245.6 L177.5 244.8 L181.9 247.4 L182.8 252.6 L181 259.6 L175.8 266.6 L168.8 273.6 L160.1 278.8 L149.6 282.3 L137.4 284.9 L125.2 285.8 L111.2 284.9 L100.7 282.3 L95.5 277.1 L92.9 268.3 L93.7 259.6 L98.1 250.9 L104.2 242.1 L112.9 231.7 L121.7 221.2 L128.7 212.5 L135.6 206.3Z" fill="#c3c3c3" stroke="#c3c3c3" stroke-width="1.5" stroke-linejoin="round"/>
<rect x="-23" y="-14.2" width="46" height="28.4" rx="12" fill="#0540f8" transform="translate(42.2 158.8) rotate(-62)"/>
<rect x="-21.5" y="-12.75" width="43" height="25.5" rx="10.5" fill="#ffffff" stroke="#ffffff" stroke-width="3.6" transform="translate(163.1 233.8) rotate(-32)"/>
<path d="M194.2 202.8 C193.58 204.12 191.95 208.33 190.5 210.7 C189.05 213.07 187.25 215.03 185.5 217 C183.75 218.97 180.92 221.58 180 222.5" fill="none" stroke="#0540f8" stroke-width="8.4" stroke-linecap="round"/>
<rect x="-21.5" y="-12.75" width="43" height="25.5" rx="10.5" fill="#0540f8" transform="translate(163.1 233.8) rotate(-32)"/>
<circle cx="258.5" cy="86" r="5.4" fill="#ad6a18" stroke="#5e1d0c" stroke-width="1.7"/>
<circle cx="189" cy="237.2" r="5.4" fill="#ad6a18" stroke="#5e1d0c" stroke-width="1.7"/>
<line x1="284.25" y1="267.53" x2="329.93" y2="287.87" stroke="#a10f12" stroke-width="4"/>
<rect x="-11" y="-16" width="22" height="32" rx="6" fill="#88383a" transform="translate(362.91 302.55) rotate(24)"/>
<rect x="-4.4" y="-10.5" width="8.8" height="21" rx="4" fill="#cc2e2e" transform="translate(349.66 296.66) rotate(24)"/>
<rect x="-3.5" y="-7" width="7" height="14" rx="3.5" fill="#f5952c" transform="translate(343.91 294.09) rotate(24)"/>
<rect x="-5.3" y="-13.75" width="10.6" height="27.5" rx="5" fill="#f41a3a" transform="translate(336.42 290.76) rotate(24)"/>
<rect x="-3.25" y="-7" width="6.5" height="14" rx="3.2" fill="#f5902c" transform="translate(329.84 287.83) rotate(24)"/>
<path d="M285.5 267.3 C280.5 265.2 276.5 262.8 274.3 259.8 C272.2 256.5 271.8 252.5 272.2 248.5 C272.4 246.5 272.8 244.5 273.4 242.5" fill="none" stroke="#111" stroke-width="2.6"/>
<path d="M277.8 234.3 L279.6 246.5 L274.2 243.2 L267.9 242.4 Z" fill="#111"/>
<path d="M418.2 364 C416.8 350 413.5 337 406.5 327.5 C400.5 320 393 315.5 385 313" fill="none" stroke="#111" stroke-width="2.8"/>
<path d="M376 309 L388.6 307.6 L384.6 312.6 L382.6 319.2 Z" fill="#111"/>
<path d="M439.7 395.4 C440.47 395.4 442.97 395.78 444.3 395.4 C445.63 395.02 446.85 394.23 447.7 393.1 C448.55 391.97 449.12 390.48 449.4 388.6 C449.68 386.72 449.5 384.07 449.4 381.8 C449.3 379.53 448.9 377.28 448.8 375 C448.7 372.72 448.6 370.18 448.8 368.1 C449 366.02 449.23 364.1 450 362.5 C450.77 360.9 452.08 359.45 453.4 358.5 C454.72 357.55 456.4 356.98 457.9 356.8 C459.4 356.62 460.88 356.83 462.4 357.4 C463.92 357.97 465.67 358.78 467 360.2 C468.33 361.62 469.65 363.82 470.4 365.9 C471.15 367.98 471.5 370.25 471.5 372.7 C471.5 375.15 471.15 377.95 470.4 380.6 C469.65 383.25 468.33 386.13 467 388.6 C465.67 391.07 464.1 393.33 462.4 395.4 C460.7 397.47 458.87 399.3 456.8 401 C454.73 402.7 452.47 404.37 450 405.6 C447.53 406.83 444.65 407.75 442 408.4 C439.35 409.05 436.08 409.32 434.1 409.5 C432.12 409.68 430.77 409.5 430.1 409.5" fill="none" stroke="#0ca911" stroke-width="2.6" stroke-linecap="round"/>
<path d="M404.15 375.75 L404.39 377.98 L405.18 381.84 L405.19 381.87 L405.98 386.54 L406.78 389.7 L407.57 392.77 L408.33 395.05 L409.33 396.59 L411.06 395.43 L411.08 395.42 L413.48 393.92 L413.55 393.88 L413.62 393.85 L413.7 393.83 L416.71 393.05 L419.56 391.58 L420.98 389.54 L421.74 387.25 L421.77 387.17 L421.8 387.1 L421.85 387.04 L421.9 386.98 L421.95 386.92 L422.01 386.87 L422.07 386.82 L422.14 386.78 L424.54 385.58 L424.61 385.55 L424.69 385.53 L424.77 385.51 L424.84 385.5 L424.92 385.5 L425 385.51 L428.1 385.91 L428.17 385.92 L428.25 385.94 L428.31 385.96 L428.38 386 L428.44 386.03 L430.84 387.63 L430.91 387.68 L430.97 387.73 L433.27 390.03 L435.67 392.43 L435.68 392.45 L437.81 394.67 L440.34 395.23 L440.86 394.71 L439.34 393.66 L439.28 393.61 L439.22 393.55 L439.17 393.49 L436.77 390.39 L436.72 390.32 L436.68 390.24 L435.24 387.17 L432.95 384.98 L432.89 384.91 L432.83 384.84 L431.23 382.44 L431.22 382.42 L429.82 380.18 L427.58 378.78 L427.52 378.74 L427.46 378.69 L427.41 378.64 L427.36 378.58 L424.96 375.38 L424.96 375.38 L422.71 372.35 L420.66 370.64 L417.9 370.99 L417.83 371 L417.75 371 L417.68 370.99 L417.61 370.98 L414.66 370.24 L411.06 371.72 L407.22 374.08 L407.18 374.1Z" fill="#09a60d"/><circle cx="404.15" cy="375.75" r="1.12" fill="#09a60d"/><circle cx="404.43" cy="378.15" r="1.27" fill="#09a60d"/><circle cx="404.91" cy="380.52" r="1.18" fill="#09a60d"/><circle cx="405.36" cy="382.9" r="1.3" fill="#09a60d"/><circle cx="405.77" cy="385.28" r="1.31" fill="#09a60d"/><circle cx="406.26" cy="387.65" r="1.03" fill="#09a60d"/><circle cx="406.85" cy="389.99" r="1.01" fill="#09a60d"/><circle cx="407.45" cy="392.33" r="1.42" fill="#09a60d"/><circle cx="408.19" cy="394.64" r="1.13" fill="#09a60d"/><circle cx="409.45" cy="396.5" r="1.12" fill="#09a60d"/><circle cx="411.47" cy="395.17" r="1.5" fill="#09a60d"/><circle cx="413.53" cy="393.89" r="1.24" fill="#09a60d"/><circle cx="415.86" cy="393.27" r="1.42" fill="#09a60d"/><circle cx="418.08" cy="392.34" r="1.24" fill="#09a60d"/><circle cx="419.99" cy="390.96" r="1.32" fill="#09a60d"/><circle cx="421.19" cy="388.89" r="1.08" fill="#09a60d"/><circle cx="422.2" cy="386.76" r="1.32" fill="#09a60d"/><circle cx="424.36" cy="385.67" r="1.43" fill="#09a60d"/><circle cx="426.73" cy="385.73" r="1.26" fill="#09a60d"/><circle cx="429" cy="386.41" r="1.37" fill="#09a60d"/><circle cx="431" cy="387.77" r="1.34" fill="#09a60d"/><circle cx="432.71" cy="389.48" r="1.03" fill="#09a60d"/><circle cx="434.42" cy="391.19" r="1.38" fill="#09a60d"/><circle cx="436.12" cy="392.91" r="1.3" fill="#09a60d"/><circle cx="437.79" cy="394.65" r="1.15" fill="#09a60d"/><circle cx="440.15" cy="395.18" r="1.02" fill="#09a60d"/><circle cx="439.63" cy="393.86" r="1.43" fill="#09a60d"/><circle cx="438.05" cy="392.05" r="1.24" fill="#09a60d"/><circle cx="436.61" cy="390.11" r="1.36" fill="#09a60d"/><circle cx="435.59" cy="387.92" r="1.44" fill="#09a60d"/><circle cx="434.09" cy="386.07" r="1.36" fill="#09a60d"/><circle cx="432.47" cy="384.29" r="1.46" fill="#09a60d"/><circle cx="431.13" cy="382.28" r="1.2" fill="#09a60d"/><circle cx="429.85" cy="380.22" r="1.4" fill="#09a60d"/><circle cx="427.81" cy="378.93" r="1.22" fill="#09a60d"/><circle cx="426.25" cy="377.1" r="1.47" fill="#09a60d"/><circle cx="424.8" cy="375.17" r="1.44" fill="#09a60d"/><circle cx="423.36" cy="373.23" r="1.05" fill="#09a60d"/><circle cx="421.69" cy="371.5" r="1.07" fill="#09a60d"/><circle cx="419.59" cy="370.78" r="1.11" fill="#09a60d"/><circle cx="417.2" cy="370.88" r="1.48" fill="#09a60d"/><circle cx="414.86" cy="370.29" r="1.22" fill="#09a60d"/><circle cx="412.61" cy="371.08" r="1.31" fill="#09a60d"/><circle cx="410.43" cy="372.11" r="1.15" fill="#09a60d"/><circle cx="408.37" cy="373.38" r="1.25" fill="#09a60d"/><circle cx="406.28" cy="374.59" r="1.19" fill="#09a60d"/>
<text x="634.5" y="9.6" font-size="13.6" fill="#1a1a1a" font-weight="normal" text-anchor="middle" font-style="normal">extrazellulär</text>
<text x="634.5" y="24" font-size="13.6" fill="#1a1a1a" font-weight="normal" text-anchor="middle" font-style="normal">Plasmamembran</text>
<text x="634.5" y="40" font-size="13.6" fill="#1a1a1a" font-weight="normal" text-anchor="middle" font-style="normal">intrazellulär / Zytosol</text>
<text x="228.6" y="50.7" font-size="15.8" fill="#1b951f" font-weight="bold" text-anchor="start" font-style="normal">SemD</text>
<text x="267.8" y="85.6" font-size="13.7" fill="#7f5422" font-weight="bold" text-anchor="start" font-style="normal">G-Aktin</text>
<text x="52.5" y="81.3" font-size="13.6" fill="#1233bb" font-weight="bold" text-anchor="start" font-style="normal">N-WASP</text>
<text x="195.3" y="251.6" font-size="13.7" fill="#7f5422" font-weight="bold" text-anchor="start" font-style="normal">G-Aktin</text>
<text x="84" y="302.6" font-size="13.5" fill="#7b7b7b" font-weight="bold" text-anchor="start" font-style="normal">Arp2/3</text>
<text x="143.8" y="325.5" font-size="13.3" fill="#6d1a1a" font-weight="bold" text-anchor="start" font-style="normal">F-Aktin</text>
<text x="511.8" y="126" font-size="13.2" fill="#921448" font-weight="bold" text-anchor="start" font-style="normal">SNX9</text>
<text x="381.9" y="297.7" font-size="13.6" fill="#1a1a1a" font-weight="normal" text-anchor="start" font-style="normal">Typ-III-Sekretionssystem</text>
<text x="412.3" y="426" font-size="16.2" fill="#17911c" font-weight="bold" text-anchor="start" font-style="normal">SemD</text>
<path id="arc" d="M371.9 242.93 A134.5 134.5 0 0 1 544.77 246.85" fill="none"/>
<text font-size="16.4" font-weight="bold" font-style="italic" fill="#111"><textPath href="#arc" startOffset="50%" text-anchor="middle">Chlamydia pneumoniae</textPath></text>
</svg></body></html>
